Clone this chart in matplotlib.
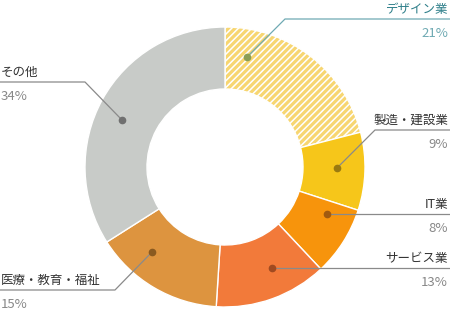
import matplotlib
matplotlib.use("Agg")
import matplotlib.pyplot as plt

labels = ["デザイン業", "製造・建設業", "IT業", "サービス業", "医療・教育・福祉", "その他"]
shares = [21, 9, 8, 13, 15, 34]
colors = ["#F7D671", "#F6C61A", "#F7940C", "#F27A3A", "#DD943F", "#C8CBC8"]
dot_colors = ["#8A9E55", "#9A7A10", "#A05A10", "#A04A20", "#8A5A20", "#707070"]

H = 315
plt.rcParams["font.family"] = ["Noto Sans CJK JP", "DejaVu Sans"]
plt.rcParams["hatch.color"] = "#FBE6A6"
plt.rcParams["hatch.linewidth"] = 1.1

fig = plt.figure(figsize=(4.5, 3.15), dpi=100)
ax = fig.add_axes([0, 0, 1, 1])

wedges, _ = ax.pie(shares, colors=colors, startangle=90, counterclock=False,
                   center=(225, H - 167), radius=140,
                   wedgeprops=dict(width=62, edgecolor="white", linewidth=1))
wedges[0].set_hatch("/////")

# pie() resets the limits, so set them afterwards
ax.set_xlim(0, 450)
ax.set_ylim(0, H)
ax.set_aspect("equal")
ax.axis("off")

# leader lines in pixel coords (x, y from top): dot -> elbow -> end
leaders = [
    [(247, 57), (285, 19), (450, 19)],
    [(337, 168), (375, 130), (450, 130)],
    [(327, 214), (450, 214)],
    [(272, 268), (450, 268)],
    [(152, 252), (115, 290), (0, 290)],
    [(122, 120), (85, 82), (0, 82)],
]
line_colors = ["#6FAAB3", "#8A8A8A", "#8A8A8A", "#8A8A8A", "#8A8A8A", "#8A8A8A"]
for pts, lc, dc in zip(leaders, line_colors, dot_colors):
    xs = [p[0] for p in pts]
    ys = [H - p[1] for p in pts]
    ax.plot(xs, ys, color=lc, lw=0.9, solid_capstyle="butt")
    ax.plot(xs[0], ys[0], "o", color=dc, ms=4.5)

# text positions (line y in px) and alignment
text_side = ["right", "right", "right", "right", "left", "left"]
for lab, sh, pts, side, i in zip(labels, shares, leaders, text_side, range(6)):
    ly = pts[-1][1]
    x = 448 if side == "right" else 1
    lab_c = "#2E7F8A" if i == 0 else "#333333"
    pct_c = "#6FAAB3" if i == 0 else "#888888"
    ax.text(x, H - ly + 3, lab, ha=side, va="bottom", fontsize=9, color=lab_c)
    ax.text(x, H - ly - 8, f"{sh}%", ha=side, va="top", fontsize=9.5, color=pct_c)

fig.savefig("out.png", dpi=100)
